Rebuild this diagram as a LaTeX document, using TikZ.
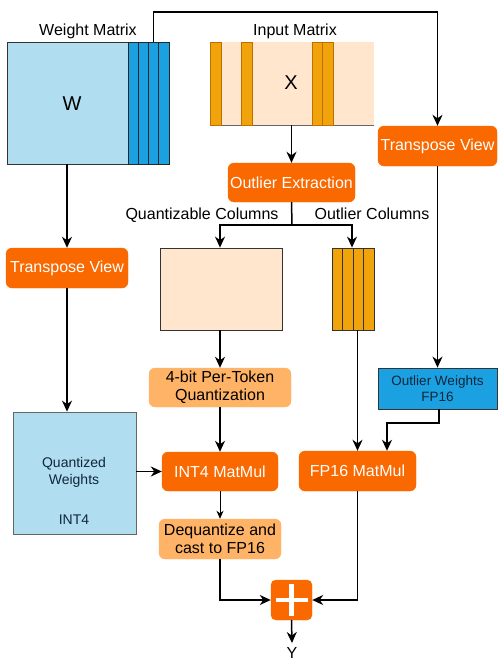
\documentclass[tikz,border=0pt]{standalone}
\usepackage{fontspec}
\setmainfont{Liberation Sans}
\usetikzlibrary{arrows.meta}
\definecolor{orD}{HTML}{FA6800}
\definecolor{orL}{HTML}{FFB366}
\definecolor{peach}{HTML}{FFE6CC}
\definecolor{lblue}{HTML}{B1DDF0}
\definecolor{dblue}{HTML}{1BA1E2}
\definecolor{strO}{HTML}{F0A30A}
\definecolor{strOd}{HTML}{BD7000}
\definecolor{edge}{HTML}{333333}
\definecolor{navy}{HTML}{10263A}
\tikzset{
  fs/.style={font=\fontsize{16}{19}\selectfont},
  obox/.style={fs, fill=orD, draw=orD, rounded corners=6pt, text=white, inner sep=0pt, align=center},
  lbox/.style={fs, fill=orL, draw=orL, rounded corners=6pt, text=black, inner sep=0pt, align=center},
  pbox/.style={fill=peach, draw=edge, line width=0.8pt, inner sep=0pt},
  bstripe/.style={fill=dblue, draw=black!85, line width=0.8pt, inner sep=0pt, minimum width=10.25pt},
  ostripe/.style={fill=strO, draw=strOd, line width=0.8pt, inner sep=0pt},
  ostripek/.style={fill=strO, draw=edge, line width=0.8pt, inner sep=0pt, minimum width=10.5pt, minimum height=82pt},
  arr/.style={line width=1.5pt, -{Stealth[length=11pt,width=10pt,inset=3.5pt]}},
  ln/.style={line width=1.5pt},
  lab/.style={fs, inner sep=0pt}
}
\begin{document}
\begin{tikzpicture}[x=1pt,y=-1pt]
\path[use as bounding box] (0,0) rectangle (500,661);
% Weight matrix
\node[fill=lblue, draw=edge, line width=0.8pt, inner sep=0pt, minimum width=121pt, minimum height=122pt] (wl) at (67.5,103) {};
\node[lab, font=\fontsize{20}{22}\selectfont] (wt) at (72,104) {W};
\node[bstripe, minimum height=122pt] (ws1) at (133.1,103) {};
\node[bstripe, minimum height=122pt] (ws2) at (143.4,103) {};
\node[bstripe, minimum height=122pt] (ws3) at (153.6,103) {};
\node[bstripe, minimum height=122pt] (ws4) at (163.9,103) {};
\node[lab] (wlab) at (88,31) {Weight Matrix};
% Input matrix
\node[fill=peach, inner sep=0pt, minimum width=164pt, minimum height=83pt] (xm) at (292,83.5) {};
\draw[draw=black!60, line width=0.8pt] (xm.south west) -- (xm.south east);
\node[ostripe, minimum width=11pt, minimum height=83pt] (xs1) at (215.5,83.5) {};
\node[ostripe, minimum width=11pt, minimum height=83pt] (xs2) at (246.5,83.5) {};
\node[ostripe, minimum width=10.5pt, minimum height=83pt] (xs3) at (317.25,83.5) {};
\node[ostripe, minimum width=10.5pt, minimum height=83pt] (xs4) at (327.75,83.5) {};
\node[lab, font=\fontsize{20}{22}\selectfont] (xt) at (291,83) {X};
\node[lab] (xlab) at (295,31) {Input Matrix};
% Transpose views
\node[obox, minimum width=119pt, minimum height=40pt] (tvr) at (437.5,146) {Transpose View};
\node[obox, minimum width=122pt, minimum height=40pt] (tvl) at (67,268) {Transpose View};
% Outlier extraction
\node[obox, minimum width=127pt, minimum height=39pt] (oe) at (291.5,182.5) {Outlier Extraction};
\node[lab] (qcl) at (202,215) {Quantizable Columns};
\node[lab] (ocl) at (372,214) {Outlier Columns};
% Quantizable / outlier columns
\node[pbox, minimum width=122pt, minimum height=82pt] (qb) at (221,289) {};
\node[ostripek] (oc1) at (337.25,289) {};
\node[ostripek] (oc2) at (347.75,289) {};
\node[ostripek] (oc3) at (358.25,289) {};
\node[ostripek] (oc4) at (368.75,289) {};
% 4-bit quant
\node[lbox, minimum width=142pt, minimum height=39pt] (q4) at (220,387.5) {4-bit Per-Token\\[-1pt]Quantization};
% Outlier weights
\node[fill=dblue, draw=edge, line width=0.8pt, inner sep=0pt, minimum width=119pt, minimum height=41pt, text=navy, align=center, font=\fontsize{13.5}{15.5}\selectfont] (ow) at (437.5,388.5) {Outlier Weights\\FP16};
% Quantized weights
\node[fill=lblue, draw=black!60, line width=0.8pt, inner sep=0pt, minimum width=123pt, minimum height=122pt] (qw) at (74.5,473) {};
\node[text=navy, align=center, inner sep=0pt, font=\fontsize{14}{17}\selectfont] (qwt) at (74,472) {Quantized\\Weights};
\node[text=navy, inner sep=0pt, font=\fontsize{14}{17}\selectfont] (qwi) at (74,520) {INT4};
% MatMuls
\node[obox, minimum width=116pt, minimum height=39pt] (i4) at (220,471.5) {INT4 MatMul};
\node[obox, minimum width=117pt, minimum height=40pt] (fp) at (357.5,471) {FP16 MatMul};
% Dequantize
\node[lbox, minimum width=122pt, minimum height=40pt] (dq) at (220,539) {Dequantize and\\[-1pt]cast to FP16};
% Plus
\node[fill=orD, draw=orD, rounded corners=5pt, inner sep=0pt, minimum width=41pt, minimum height=40pt] (pl) at (291.5,600) {};
\draw[white, line width=4.5pt] (276,600) -- (308,600) (291.5,583.5) -- (291.5,615.5);
\node[lab] (yl) at (292,653) {Y};
% Connectors
\coordinate (topy) at (0,12);
\draw[arr] (ws3.north) -- (ws3.north |- topy) -| (tvr.north);
\draw[arr] (wl.south -| tvl.north) -- (tvl.north);
\draw[arr] (tvl.south) -- (qw.north -| tvl.south);
\draw[arr] (xm.south -| oe.north) -- (oe.north);
\coordinate (split) at (292,225);
\draw[ln] (oe.south) -- (split);
\draw[arr] (split) -| (qb.north -| 220,0);
\draw[arr] (split) -| (oc3.north -| 352,0);
\draw[arr] (qb.south -| q4.north) -- (q4.north);
\draw[arr] (q4.south) -- (i4.north);
\draw[arr] (qw.east |- i4.west) -- (i4.west);
\draw[line width=1pt, -{Stealth[length=8pt,width=7pt,inset=2.5pt]}] (i4.south) -- (dq.north);
\draw[arr] (dq.south) |- (pl.west);
\draw[arr] (tvr.south) -- (ow.north -| tvr.south);
\draw[arr] (oc4.south -| fp.north) -- (fp.north);
\coordinate (owj) at (387,423);
\draw[arr] (ow.south -| 439,0) |- (owj) -- (owj |- fp.north);
\draw[arr] (fp.south) |- (pl.east);
\draw[arr] (pl.south) -- (292,643);
\end{tikzpicture}
\end{document}
